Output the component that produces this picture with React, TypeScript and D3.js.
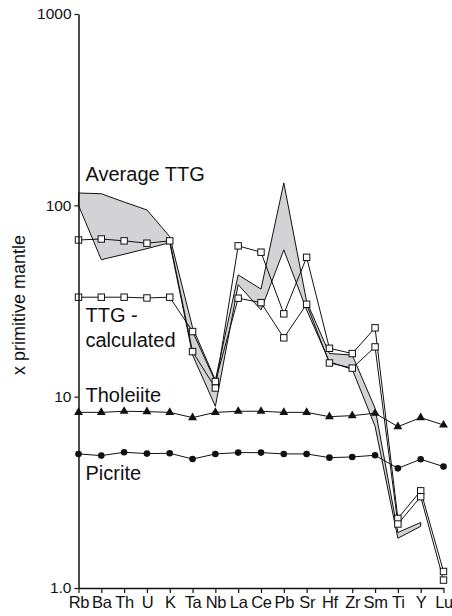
import React, { useEffect, useRef } from "react";
import * as d3 from "d3";

const elements = ["Rb", "Ba", "Th", "U", "K", "Ta", "Nb", "La", "Ce", "Pb", "Sr", "Hf", "Zr", "Sm", "Ti", "Y", "Lu"];

// Average TTG envelope (no value at Lu)
const ttgUpper = [116, 115, 104, 94.6, 68.6, 23, 12.2, 43.3, 36.5, 131, 31.4, 16.8, 16.5, 8.7, 1.95, 2.2, null];
const ttgLower = [100, 52, 55.5, 59.4, 63.8, 16.5, 8.9, 38.5, 28.4, 58.5, 28.4, 15.2, 13.9, 7.0, 1.82, 2.1, null];

// TTG - calculated
const ttgCalcHigh = [65.9, 66.7, 65.2, 63.4, 65.2, 17.2, 11.1, 61.4, 56.9, 27.1, 53.5, 17.9, 16.8, 22.9, 2.31, 3.22, 1.22];
const ttgCalcLow = [33.1, 33.1, 33.1, 32.8, 33.1, 21.9, 12.0, 32.7, 31.0, 20.3, 30.4, 15.0, 14.1, 18.2, 2.16, 3.0, 1.1];

const tholeiite = [8.28, 8.28, 8.39, 8.35, 8.28, 7.77, 8.28, 8.39, 8.39, 8.28, 8.28, 7.86, 7.96, 8.19, 6.97, 7.77, 7.11];
const picrite = [5.02, 4.92, 5.12, 5.04, 5.06, 4.72, 5.02, 5.1, 5.1, 5.02, 5.02, 4.8, 4.84, 4.94, 4.22, 4.71, 4.31];

const yTicks = [1, 10, 100, 1000];
const yTickLabels = ["1.0", "10", "100", "1000"];

const FONT = "'Liberation Sans', Arial, Helvetica, sans-serif";

export default function App() {
  const svgRef = useRef<SVGSVGElement>(null);

  useEffect(() => {
    const svg = d3.select(svgRef.current);
    svg.selectAll("*").remove();

    const width = 452;
    const height = 616;
    svg.attr("width", width).attr("height", height);

    const x = d3.scalePoint<string>().domain(elements).range([78.5, 443.5]);
    const y = d3.scaleLog().domain([1, 1000]).range([588, 14]);

    const idx = elements.map((e, i) => ({ e, i }));

    // envelope
    const area = d3
      .area<{ e: string; i: number }>()
      .defined((d) => ttgUpper[d.i] != null)
      .x((d) => x(d.e)!)
      .y0((d) => y(ttgLower[d.i] as number))
      .y1((d) => y(ttgUpper[d.i] as number));

    const env = idx.filter((d) => ttgUpper[d.i] != null);
    const outline = env
      .map((d) => [x(d.e)!, y(ttgUpper[d.i] as number)])
      .concat(env.slice().reverse().map((d) => [x(d.e)!, y(ttgLower[d.i] as number)]));

    svg
      .append("path")
      .datum(idx)
      .attr("d", area)
      .attr("fill", "#d3d3d5")
      .attr("stroke", "none");

    svg
      .append("path")
      .attr("d", "M" + outline.map((p) => p.join(",")).join("L") + "Z")
      .attr("fill", "none")
      .attr("stroke", "#111")
      .attr("stroke-width", 1)
      .attr("stroke-linejoin", "miter");

    const lineOf = (vals: number[]) =>
      d3
        .line<number>()
        .x((_, i) => x(elements[i])!)
        .y((v) => y(v))(vals);

    // tholeiite
    svg
      .append("path")
      .attr("d", lineOf(tholeiite))
      .attr("fill", "none")
      .attr("stroke", "#111")
      .attr("stroke-width", 1);
    const tri = d3.symbol().type(d3.symbolTriangle).size(34);
    svg
      .append("g")
      .selectAll("path")
      .data(tholeiite)
      .join("path")
      .attr("d", tri)
      .attr("transform", (v, i) => `translate(${x(elements[i])},${y(v)})`)
      .attr("fill", "#111");

    // picrite
    svg
      .append("path")
      .attr("d", lineOf(picrite))
      .attr("fill", "none")
      .attr("stroke", "#111")
      .attr("stroke-width", 1);
    svg
      .append("g")
      .selectAll("circle")
      .data(picrite)
      .join("circle")
      .attr("cx", (v, i) => x(elements[i])!)
      .attr("cy", (v) => y(v))
      .attr("r", 3.3)
      .attr("fill", "#111");

    // calculated TTG lines with open squares
    [ttgCalcHigh, ttgCalcLow].forEach((series) => {
      svg
        .append("path")
        .attr("d", lineOf(series))
        .attr("fill", "none")
        .attr("stroke", "#111")
        .attr("stroke-width", 1);
    });
    [ttgCalcHigh, ttgCalcLow].forEach((series) => {
      svg
        .append("g")
        .selectAll("rect")
        .data(series)
        .join("rect")
        .attr("x", (v, i) => x(elements[i])! - 3.2)
        .attr("y", (v) => y(v) - 3.2)
        .attr("width", 6.4)
        .attr("height", 6.4)
        .attr("fill", "#fff")
        .attr("stroke", "#111")
        .attr("stroke-width", 1);
    });

    // axes
    const yAxis = d3
      .axisLeft(y)
      .tickValues(yTicks)
      .tickFormat((d, i) => yTickLabels[i])
      .tickSize(4)
      .tickSizeOuter(0)
      .tickPadding(3);
    const gy = svg.append("g").attr("transform", `translate(${x("Rb")},0)`).call(yAxis);
    gy.select(".domain").attr("stroke", "#111").attr("stroke-width", 1.5);
    gy.selectAll(".tick line").attr("stroke", "#111").attr("stroke-width", 1.2);
    gy.selectAll("text").attr("font-family", FONT).attr("font-size", 15.5).attr("fill", "#111");

    const xAxis = d3.axisBottom(x).tickSize(5).tickSizeOuter(0).tickPadding(3);
    const gx = svg.append("g").attr("transform", `translate(0,${y(1)})`).call(xAxis);
    gx.select(".domain").attr("stroke", "#111").attr("stroke-width", 1.5);
    gx.selectAll(".tick line").attr("stroke", "#111").attr("stroke-width", 1.2);
    gx.selectAll("text")
      .attr("font-family", FONT)
      .attr("font-size", 16.5)
      .attr("letter-spacing", -0.3)
      .attr("fill", "#111");

    // series labels
    const lx = x("Rb")! + 7;
    const label = (t: string, ly: number) =>
      svg
        .append("text")
        .attr("x", lx)
        .attr("y", ly)
        .attr("font-family", FONT)
        .attr("font-size", 20)
        .attr("fill", "#111")
        .text(t);
    label("Average TTG", 181);
    label("TTG -", 322);
    label("calculated", 347);
    label("Tholeiite", 402);
    label("Picrite", 480);

    svg
      .append("text")
      .attr("transform", `translate(25,305) rotate(-90)`)
      .attr("text-anchor", "middle")
      .attr("font-family", FONT)
      .attr("font-size", 18)
      .attr("fill", "#111")
      .text("x primitive mantle");
  }, []);

  return (
    <svg
      ref={svgRef}
      style={{ position: "absolute", left: 0, top: 0, background: "#fff" }}
    ></svg>
  );
}
